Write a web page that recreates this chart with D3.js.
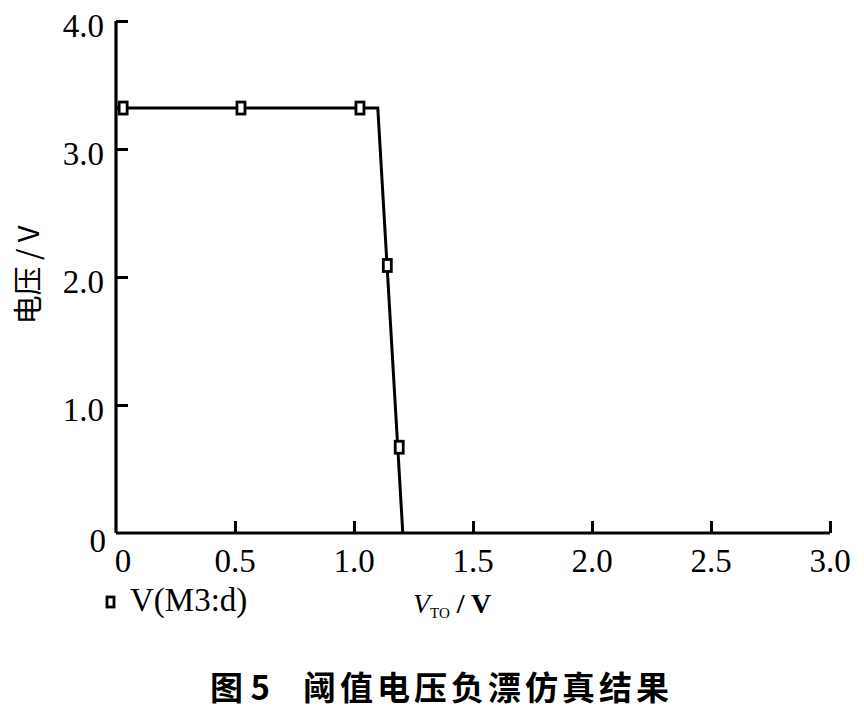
<!DOCTYPE html>
<html><head><meta charset="utf-8">
<script src="https://cdn.jsdelivr.net/npm/d3@7"></script>
<style>body{margin:0;background:#fff}</style>
</head><body>
<svg id="c" width="864" height="713"></svg>
<script>
const xTicks = [0, 0.5, 1.0, 1.5, 2.0, 2.5, 3.0];
const xTickLabels = ["0", "0.5", "1.0", "1.5", "2.0", "2.5", "3.0"];
const yTicks = [0, 1.0, 2.0, 3.0, 4.0];
const yTickLabels = ["0", "1.0", "2.0", "3.0", "4.0"];
const lineX = [0, 1.10, 1.205];
const lineY = [3.32, 3.32, 0];
const markerX = [0.03, 0.525, 1.025, 1.14, 1.19];
const markerY = [3.32, 3.32, 3.32, 2.09, 0.67];
const seriesName = "V(M3:d)";
const yTitle = "电压 / V";
const caption = ["图 5", "阈值电压负漂仿真结果"];

const svg = d3.select("#c");
const x = d3.scaleLinear().domain([0, 3]).range([116, 830]);
const y = d3.scaleLinear().domain([0, 4]).range([533, 21]);
const serif = "'Liberation Serif','DejaVu Serif',serif";

// axes
const xAxis = d3.axisBottom(x).tickValues(xTicks).tickSize(-12).tickFormat("");
const gx = svg.append("g").attr("transform", `translate(0,${y(0)})`).call(xAxis);
const yAxis = d3.axisLeft(y).tickValues(yTicks).tickSize(-12).tickFormat("");
const gy = svg.append("g").attr("transform", `translate(${x(0)},0)`).call(yAxis);
[gx, gy].forEach(g => {
  g.select(".domain").attr("stroke", "#000").attr("stroke-width", 3.2);
  g.selectAll(".tick line").attr("stroke", "#000").attr("stroke-width", 3);
});
gx.selectAll(".tick").filter(d => d === 0).select("line").remove();
gy.selectAll(".tick").filter(d => d === 0).select("line").remove();
gx.select(".domain").attr("d", `M${x(0)},0H${x(3)}`);
gy.select(".domain").attr("d", `M0,${y(0)}V${y(4)}`);

// tick labels
svg.append("g").selectAll("text").data(xTicks).join("text")
  .attr("x", (d, i) => x(d) + (i === 0 ? 7 : 0)).attr("y", 572)
  .attr("text-anchor", "middle").attr("font-family", serif).attr("font-size", 33)
  .text((d, i) => xTickLabels[i]);
svg.append("g").selectAll("text").data(yTicks).join("text")
  .attr("x", d => d === 0 ? 106 : 104).attr("y", d => y(d) + 16 + (d === 0 ? 3 : 0))
  .attr("text-anchor", "end").attr("font-family", serif).attr("font-size", 33)
  .text((d, i) => yTickLabels[i]);

// line
const pts = lineX.map((v, i) => [v, lineY[i]]);
svg.append("path").datum(pts)
  .attr("d", d3.line().x(d => x(d[0])).y(d => y(d[1])))
  .attr("fill", "none").attr("stroke", "#000").attr("stroke-width", 3).attr("stroke-linejoin", "miter");

// markers
const mk = markerX.map((v, i) => [v, markerY[i]]);
svg.append("g").selectAll("rect").data(mk).join("rect")
  .attr("x", d => x(d[0]) - 4).attr("y", d => y(d[1]) - 6)
  .attr("width", 8).attr("height", 12)
  .attr("fill", "#fff").attr("stroke", "#000").attr("stroke-width", 2.8);

// legend
svg.append("rect").attr("x", 107).attr("y", 597).attr("width", 7).attr("height", 10)
  .attr("fill", "#fff").attr("stroke", "#000").attr("stroke-width", 2.8);
svg.append("text").attr("x", 130).attr("y", 611).attr("font-family", serif).attr("font-size", 33)
  .text(seriesName);

// x title
const xt = svg.append("text").attr("x", 413).attr("y", 613).attr("font-family", serif).attr("font-size", 28);
xt.append("tspan").attr("font-style", "italic").text("V");
xt.append("tspan").attr("font-size", 15).attr("dy", 5).text("TO");
xt.append("tspan").attr("dy", -5).attr("font-weight", "bold").text(" / V");

// y title
svg.append("text").attr("transform", "translate(39,275) rotate(-90)")
  .attr("text-anchor", "middle").attr("font-family", "'Noto Sans CJK SC', serif").attr("font-size", 29)
  .text(yTitle);

// caption
const cap = svg.append("text").attr("y", 700)
  .attr("font-family", "'Noto Sans CJK SC', serif").attr("font-weight", "bold").attr("font-size", 33);
cap.append("tspan").attr("x", 210).text(caption[0]);
cap.append("tspan").attr("x", 303).attr("letter-spacing", 4).text(caption[1]);
</script>
</body></html>
